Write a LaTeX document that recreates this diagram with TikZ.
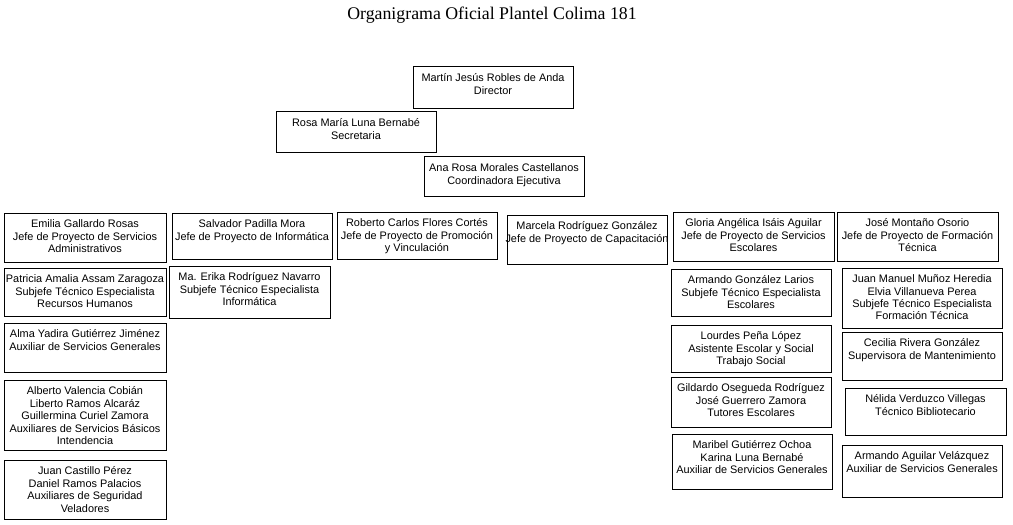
\documentclass[tikz,border=0pt]{standalone}
\usepackage{fontspec}
\newfontfamily\cajafont{Liberation Sans}
\newfontfamily\titulofont{Liberation Serif}
\usetikzlibrary{fit}

\tikzset{
  caja/.style={draw, line width=0.8pt, inner sep=0pt},
  texto/.style={anchor=north, align=center, inner sep=0pt,
    font=\cajafont\fontsize{10.9}{12.4}\selectfont}
}

\begin{document}
\begin{tikzpicture}[x=1pt, y=-1pt]
  \useasboundingbox (0,0) rectangle (1013,525);

  \node[anchor=base, font=\titulofont\fontsize{17.8}{20}\selectfont] (titulo) at (492,19)
    {Organigrama Oficial Plantel Colima 181};

  % cajas
  \begin{scope}[every node/.style={caja}]
    \node[fit={(413,66) (573,108)}] (director) {};
    \node[fit={(276,111) (436,152)}] (secretaria) {};
    \node[fit={(424,156) (584,196)}] (coordinadora) {};

    \node[fit={(4,213) (166,262)}] (emilia) {};
    \node[fit={(172,213) (332,259)}] (salvador) {};
    \node[fit={(337,212) (497,259)}] (roberto) {};
    \node[fit={(507,215) (667,264)}] (marcela) {};
    \node[fit={(673,212) (834,261)}] (gloria) {};
    \node[fit={(837,212) (998,261)}] (montano) {};

    \node[fit={(4,268) (166,316)}] (patricia) {};
    \node[fit={(4,323) (166,372)}] (alma) {};
    \node[fit={(4,380) (166,450)}] (alberto) {};
    \node[fit={(4,460) (166,519)}] (castillo) {};

    \node[fit={(169,266) (330,318)}] (erika) {};

    \node[fit={(671,269) (831,316)}] (gonzalez) {};
    \node[fit={(671,325) (831,372)}] (lourdes) {};
    \node[fit={(671,377) (831,427)}] (gildardo) {};
    \node[fit={(672,434) (832,489)}] (maribel) {};

    \node[fit={(842,268) (1002,328)}] (munoz) {};
    \node[fit={(842,332) (1002,380)}] (cecilia) {};
    \node[fit={(845,388) (1006,435)}] (nelida) {};
    \node[fit={(842,445) (1002,497)}] (aguilar) {};
  \end{scope}

  % textos
  \begin{scope}[every node/.style={texto}]
    \node (director-t) at ([yshift=-8pt]director.north)
      {Martín Jesús Robles de Anda\\Director};
    \node (secretaria-t) at ([yshift=-8pt]secretaria.north)
      {Rosa María Luna Bernabé\\Secretaria};
    \node (coordinadora-t) at ([yshift=-8pt]coordinadora.north)
      {Ana Rosa Morales Castellanos\\Coordinadora Ejecutiva};

    \node (emilia-t) at ([yshift=-7pt]emilia.north)
      {Emilia Gallardo Rosas\\Jefe de Proyecto de Servicios\\Administrativos};
    \node (salvador-t) at ([yshift=-7pt]salvador.north)
      {Salvador Padilla Mora\\Jefe de Proyecto de Informática};
    \node (roberto-t) at ([yshift=-7pt]roberto.north)
      {Roberto Carlos Flores Cortés\\Jefe de Proyecto de Promoción\\y Vinculación};
    \node (marcela-t) at ([yshift=-7pt]marcela.north)
      {Marcela Rodríguez González\\Jefe de Proyecto de Capacitación};
    \node (gloria-t) at ([yshift=-7pt]gloria.north)
      {Gloria Angélica Isáis Aguilar\\Jefe de Proyecto de Servicios\\Escolares};
    \node (montano-t) at ([yshift=-7pt]montano.north)
      {José Montaño Osorio\\Jefe de Proyecto de Formación\\Técnica};

    \node (patricia-t) at ([yshift=-7pt]patricia.north)
      {Patricia Amalia Assam Zaragoza\\Subjefe Técnico Especialista\\Recursos Humanos};
    \node (alma-t) at ([yshift=-7pt]alma.north)
      {Alma Yadira Gutiérrez Jiménez\\Auxiliar de Servicios Generales};
    \node (alberto-t) at ([yshift=-7pt]alberto.north)
      {Alberto Valencia Cobián\\Liberto Ramos Alcaráz\\Guillermina Curiel Zamora\\Auxiliares de Servicios Básicos\\Intendencia};
    \node (castillo-t) at ([yshift=-7pt]castillo.north)
      {Juan Castillo Pérez\\Daniel Ramos Palacios\\Auxiliares de Seguridad\\Veladores};

    \node (erika-t) at ([yshift=-7pt]erika.north)
      {Ma. Erika Rodríguez Navarro\\Subjefe Técnico Especialista\\Informática};

    \node (gonzalez-t) at ([yshift=-7pt]gonzalez.north)
      {Armando González Larios\\Subjefe Técnico Especialista\\Escolares};
    \node (lourdes-t) at ([yshift=-7pt]lourdes.north)
      {Lourdes Peña López\\Asistente Escolar y Social\\Trabajo Social};
    \node (gildardo-t) at ([yshift=-7pt]gildardo.north)
      {Gildardo Osegueda Rodríguez\\José Guerrero Zamora\\Tutores Escolares};
    \node (maribel-t) at ([yshift=-7pt]maribel.north)
      {Maribel Gutiérrez Ochoa\\Karina Luna Bernabé\\Auxiliar de Servicios Generales};

    \node (munoz-t) at ([yshift=-7pt]munoz.north)
      {Juan Manuel Muñoz Heredia\\Elvia Villanueva Perea\\Subjefe Técnico Especialista\\Formación Técnica};
    \node (cecilia-t) at ([yshift=-7pt]cecilia.north)
      {Cecilia Rivera González\\Supervisora de Mantenimiento};
    \node (nelida-t) at ([yshift=-7pt]nelida.north)
      {Nélida Verduzco Villegas\\Técnico Bibliotecario};
    \node (aguilar-t) at ([yshift=-7pt]aguilar.north)
      {Armando Aguilar Velázquez\\Auxiliar de Servicios Generales};
  \end{scope}
\end{tikzpicture}
\end{document}
